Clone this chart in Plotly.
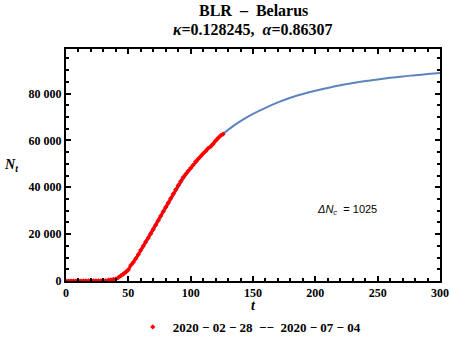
import plotly.graph_objects as go

# observed cumulative cases, every 2 days from 2020-02-28
obs_day = list(range(0, 127, 2))
obs_cases = [1, 1, 1, 6, 6, 6, 9, 27, 36, 36, 51, 69, 76, 86, 94, 94,
             152, 351, 440, 700, 861, 1486, 2226, 2919, 3728, 4779, 6723, 7971,
             9590, 11289, 13181, 14917, 16705, 18350, 20168, 22052, 23906, 25825,
             27730, 29650, 31508, 33371, 35244, 37144, 38956, 40764, 42556, 44255,
             45600, 46900, 48200, 49500, 50900, 52100, 53200, 54400, 55400, 56600,
             57300, 58500, 59900, 61000, 62000, 62700]

# model curve
fit_day = [0, 10, 20, 30, 40, 50, 60, 70, 80, 90, 100, 110, 120, 130, 140, 150,
           160, 170, 180, 190, 200, 210, 220, 230, 240, 250, 260, 270, 280, 290, 300]
fit_cases = [0, 2, 20, 150, 1000, 5200, 12800, 21500, 30800, 39900, 48000, 54600,
             60000, 64500, 68200, 71300, 73900, 76200, 78200, 79800, 81200, 82400,
             83500, 84500, 85300, 86000, 86700, 87300, 87800, 88300, 88800]

x_ticks = [0, 50, 100, 150, 200, 250, 300]
y_ticks = [0, 20000, 40000, 60000, 80000]
y_labels = ["0", "20 000", "40 000", "60 000", "80 000"]

serif = "Liberation Serif, Times New Roman, serif"

fig = go.Figure()
fig.add_trace(go.Scatter(x=fit_day, y=fit_cases, mode="lines", line_shape="spline",
                         line=dict(color="#5f84bd", width=2), showlegend=False))
fig.add_trace(go.Scatter(x=obs_day, y=obs_cases, mode="lines",
                         line=dict(color="#ff0000", width=3), showlegend=False))
fig.add_trace(go.Scatter(x=obs_day, y=obs_cases, mode="markers",
                         marker=dict(symbol="diamond", size=4, color="#ff0000"),
                         name="<b>2020 − 02 − 28  −−  2020 − 07 − 04</b>"))

axis_common = dict(showgrid=False, zeroline=False, showline=True, linecolor="black",
                   linewidth=2, mirror="ticks", ticks="inside", ticklen=5,
                   tickwidth=1.5, tickcolor="black", automargin=False,
                   tickfont=dict(family=serif, size=12, color="black"))

fig.update_xaxes(range=[0, 300], tickvals=x_ticks,
                 ticktext=["<b>%d</b>" % v for v in x_ticks],
                 minor=dict(ticks="inside", dtick=10, ticklen=3, tickcolor="black"),
                 **axis_common)
fig.update_yaxes(range=[0, 99000], tickvals=y_ticks,
                 ticktext=["<b>%s</b>" % s for s in y_labels],
                 minor=dict(ticks="inside", dtick=5000, ticklen=3, tickcolor="black"),
                 **axis_common)

def note(text, x, y, size=14, family=serif):
    fig.add_annotation(x=x, y=y, xref="paper", yref="paper", showarrow=False,
                       xanchor="center", yanchor="middle",
                       text=text, font=dict(family=family, size=size, color="black"))

note("<b>BLR  –  Belarus</b>", 0.5, 1.164, size=16)
note("<b><i>κ</i>=0.128245,  <i>α</i>=0.86307</b>", 0.5, 1.086, size=16)
note("<b><i>N<sub>t</sub></i></b>", -0.148, 0.5)
note("<b><i>t</i></b>", 0.5, -0.106)
fig.add_annotation(x=225, y=30100, showarrow=False,
                   text="<i>ΔN<sub>c</sub></i>  = 1025",
                   font=dict(family="Liberation Sans", size=11, color="black"))

fig.update_layout(
    width=450, height=337,
    margin=dict(l=66, r=10, t=49, b=56, autoexpand=False),
    paper_bgcolor="white", plot_bgcolor="white",
    legend=dict(orientation="h", x=0.49, xanchor="center", y=-0.198, yanchor="middle",
                font=dict(family=serif, size=13, color="black"), itemwidth=30),
)

fig.write_html("out.html", config={"displayModeBar": False},
               post_script="document.body.style.margin='0';")
